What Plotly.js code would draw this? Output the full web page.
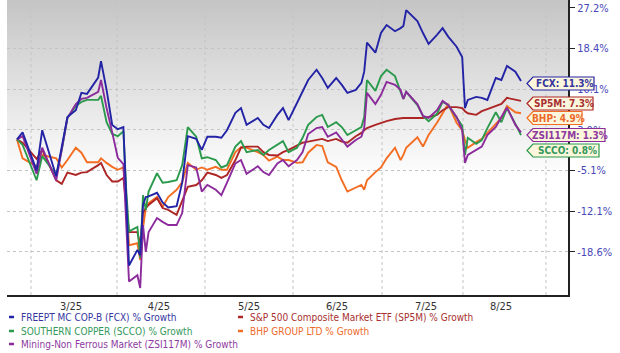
<!DOCTYPE html>
<html><head><meta charset="utf-8">
<script src="https://cdn.plot.ly/plotly-3.0.1.min.js"></script>
<style>
body{margin:0;background:#fff}
#wrap{position:relative;width:620px;height:353px}
#bg{position:absolute;left:7px;top:0;width:561px;height:295px;
  background:linear-gradient(to bottom,#c4c4c4 0px,#e2e2e2 90px,#ffffff 178px,#ffffff 295px)}
#chart{position:absolute;left:0;top:0;width:620px;height:353px}
</style>
</head><body><div id="wrap"><div id="bg"></div><div id="chart"></div></div>
<script>
// ---------- data (percent growth since start) ----------
const dates = [
'2025-02-24','2025-02-26','2025-03-03','2025-03-05','2025-03-10','2025-03-12','2025-03-14','2025-03-17','2025-03-19','2025-03-21',
'2025-03-25','2025-03-26','2025-03-28','2025-03-30','2025-04-01','2025-04-03','2025-04-04','2025-04-05','2025-04-08','2025-04-09',
'2025-04-10','2025-04-11','2025-04-12','2025-04-15','2025-04-17','2025-04-19','2025-04-22','2025-04-24','2025-04-26','2025-04-29',
'2025-05-01','2025-05-03','2025-05-06','2025-05-08','2025-05-10','2025-05-13','2025-05-15','2025-05-17','2025-05-21','2025-05-23',
'2025-05-25','2025-05-28','2025-05-30','2025-06-01','2025-06-04','2025-06-06','2025-06-08','2025-06-11','2025-06-13','2025-06-15',
'2025-06-18','2025-06-20','2025-06-22','2025-06-25','2025-06-27','2025-06-28','2025-06-29','2025-07-02','2025-07-04','2025-07-06',
'2025-07-09','2025-07-11','2025-07-12','2025-07-13','2025-07-17','2025-07-19','2025-07-21','2025-07-24','2025-07-26','2025-07-28',
'2025-07-31','2025-08-02','2025-08-03','2025-08-04','2025-08-07','2025-08-09','2025-08-11','2025-08-14','2025-08-16','2025-08-18',
'2025-08-21','2025-08-23'];

const fcx = [0,1.3,-5.5,1.7,-6.5,-1.5,4.2,5.5,8.9,8.7, 12.0,15.4,9.5,2.7,1.9,2.3,-10.5,-20.6,-18.3,-19.1,
 -11.3,-10.0,-9.9,-9.3,-10.9,-11.7,-11.5,-7.6,0.6,0.1, -1.9,0.5,0.5,0.3,1.7,5.0,5.9,2.7,4.0,2.7,
 2.1,4.6,5.9,3.6,6.9,9.1,11.5,13.6,11.9,9.9, 11.9,10.5,8.9,9.5,10.9,13.2,19.4,17.2,21.5,23.3,
 21.9,22.6,23.1,26.7,24.2,21.5,19.1,21.1,22.6,20.7, 18.5,16.3,5.9,7.5,8.1,7.9,7.5,11.9,11.5,14.4, 13.2,11.3];

const sp5m = [0,-0.6,-3.5,-1.9,-7.2,-7.8,-5.9,-6.3,-5.9,-5.8, -4.6,-4.2,-6.3,-7.4,-7.4,-6.8,-11.3,-15.6,-15.6,-17.6,
 -12.6,-11.8,-11.3,-10.2,-11.8,-12.1,-12.9,-10.5,-8.3,-8.0, -7.2,-5.9,-6.3,-6.8,-6.3,-3.7,-1.5,-1.3,-1.3,-2.3,
 -2.8,-2.9,-2.3,-1.9,-1.2,-0.6,-0.4,-0.1,0.1,-0.3, 0.1,-0.4,-0.6,0.6,1.2,1.7,2.1,2.7,3.1,3.4,
 3.8,4.0,4.0,4.0,4.0,4.0,4.2,4.6,5.5,6.1, 6.1,5.9,5.3,4.9,4.6,5.3,5.7,6.3,6.7,7.9, 7.5,7.3];

const scco = [0,-1.0,-7.2,-3.0,-6.3,-1.9,4.0,6.3,7.1,7.5, 7.5,8.3,3.2,1.0,0.6,1.5,-8.8,-15.5,-14.8,-19.5,
 -9.7,-12.1,-9.1,-6.0,-7.6,-7.5,-7.2,-4.6,2.3,0.5, -3.4,-3.2,-3.7,-5.0,-4.6,-1.3,-0.3,-2.3,-1.9,-2.8,
 -1.9,-1.0,-0.3,-2.3,-1.5,0.3,2.7,4.2,4.6,2.3, 3.2,2.3,0.8,1.7,2.3,4.2,11.5,9.3,12.3,13.6,
 12.3,9.1,7.7,9.1,6.5,4.4,3.4,4.8,7.1,6.5, 4.2,2.5,-2.8,0.3,-0.8,-0.1,2.1,5.1,3.2,5.9, 2.9,0.8];

const bhp = [0,-3.4,-4.8,-2.8,-3.4,-5.0,-3.7,-1.5,-2.4,-4.1, -4.1,-3.4,-4.2,-4.9,-5.4,-5.0,-10.5,-17.6,-17.3,-19.8,
 -15.0,-11.8,-11.0,-10.0,-11.6,-10.0,-8.8,-7.5,-4.2,-5.4, -5.0,-5.4,-4.9,-5.4,-5.4,-2.3,-1.4,-1.5,-2.3,-2.8,
 -3.8,-3.1,-3.7,-3.7,-4.2,-4.1,-2.4,-1.0,-1.2,-4.1, -4.9,-7.2,-9.1,-8.4,-8.0,-8.8,-7.2,-5.8,-5.0,-3.4,
 -1.5,-3.7,-2.8,-1.5,0.4,-1.3,0.8,3.1,5.0,6.7, 3.1,1.7,-0.1,-1.5,-0.5,0.1,1.2,2.9,4.0,6.3, 5.1,4.9];

const zsi = [0,0.6,-6.1,-1.5,-7.2,-1.9,4.0,6.7,7.7,7.9, 9.1,11.5,5.9,1.3,-3.3,-4.4,-14.5,-22.9,-22.0,-23.8,
 -14.5,-18.6,-15.6,-13.4,-14.0,-14.5,-14.5,-12.6,-4.6,-5.0, -9.1,-8.0,-8.8,-9.7,-7.6,-4.3,-3.7,-6.1,-4.8,-5.8,
 -6.3,-4.3,-3.7,-4.8,-3.7,-2.3,1.0,2.1,2.3,0.5, 1.3,-0.1,-1.3,-0.1,0.5,2.1,8.9,6.7,8.5,11.1,
 10.5,9.5,7.7,9.1,6.7,4.4,4.0,5.5,7.3,6.5, 4.2,1.7,-4.2,-2.8,-1.9,-1.3,0.8,2.3,4.2,6.0, 2.7,1.3];

const legendNames = ['FREEPT MC COP-B (FCX) % Growth','S&P 500 Composite Market ETF (SP5M) % Growth',
  'SOUTHERN COPPER (SCCO) % Growth','BHP GROUP LTD % Growth','Mining-Non Ferrous Market (ZSI117M) % Growth'];
const tickers = ['FCX','SP5M','SCCO','BHP','ZSI117M'];
const xTickText = ['3/25','4/25','5/25','6/25','7/25','8/25'];
const yTickText = ['27.2%','18.4%','10.1%','3.0%','-5.1%','-12.1%','-18.6%'];

// ---------- styling / layout ----------
const W = 620, H = 353, L = 7, R = 52, T = 0, B = 58;
const PW = W - L - R, PH = H - T - B;
const px = x => (x - L) / PW;          // pixel -> paper x
const py = y => 1 - (y - T) / PH;      // pixel -> paper y
const FONT = "'DejaVu Sans Condensed', 'DejaVu Sans', sans-serif";
const GRID = '#c4c4c4';

const series = [
  {vals: fcx,  color:'#2323a6', text:'#35359f', idx:0},
  {vals: sp5m, color:'#ad2525', text:'#a83030', idx:1},
  {vals: scco, color:'#2b9a4c', text:'#33985a', idx:2},
  {vals: bhp,  color:'#f36d22', text:'#ee6a2a', idx:3},
  {vals: zsi,  color:'#8c2b9c', text:'#8e3aa0', idx:4}
];
const drawOrder = [3,1,2,4,0];
const toRatio = g => 1 + g / 100;

const traces = drawOrder.map(i => {
  const s = series.find(o => o.idx === i);
  return {type:'scatter', mode:'lines', x: dates, y: s.vals.map(toRatio), name: legendNames[i],
          line:{color:s.color, width:1.9}, hoverinfo:'skip', showlegend:false};
});

// y ticks: evenly spaced on a log scale between top and bottom labels
const yTop = toRatio(parseFloat(yTickText[0])), yBot = toRatio(parseFloat(yTickText[yTickText.length-1]));
const yTickVals = yTickText.map((_, k) => Math.exp(Math.log(yTop) + (Math.log(yBot) - Math.log(yTop)) * k / (yTickText.length - 1)));

const shapes = [], annotations = [];

// background gradient: grey at the top fading to white (opaque bands, below the grid)
const hex2 = v => v.toString(16).padStart(2, '0');
const gradTop = 196, gradMid = 226, midPx = 90, endPx = 178, band = 3;
for (let y = 0; y < endPx; y += band) {
  const yc = y + band / 2;
  const v = yc <= midPx ? gradTop + (gradMid - gradTop) * yc / midPx
                        : gradMid + (255 - gradMid) * (yc - midPx) / (endPx - midPx);
  const c = Math.min(255, Math.round(v));
  shapes.push({type:'rect', xref:'paper', yref:'paper', x0:0, x1:1, y0:py(Math.min(endPx, y + band + 0.6)), y1:py(y),
    fillcolor:'#' + hex2(c) + hex2(c) + hex2(c), line:{width:0}, layer:'below'});
}

// vertical dotted grid lines at the month boundaries of the reference chart
const monthGrid = ['2025-03-01 00:00','2025-03-31 17:00','2025-05-02 03:00','2025-06-02 14:00','2025-07-04 09:00','2025-08-02 07:00','2025-08-31 22:00'];
monthGrid.forEach(d => shapes.push({type:'line', xref:'x', yref:'paper', x0:d, x1:d, y0:0, y1:1,
  line:{color:GRID, width:1, dash:'dot'}, layer:'below'}));

// end labels (callouts)
const callouts = [
  {i:0, cy:83.5, right:594},
  {i:1, cy:103.5, right:593},
  {i:3, cy:118, right:582},
  {i:4, cy:135, right:605},
  {i:2, cy:150.5, right:599}
];
const tip = 527, hh = 6.5, notch = 6;
callouts.forEach(c => {
  const s = series.find(o => o.idx === c.i);
  const last = s.vals[s.vals.length - 1];
  const path = `M ${px(tip)},${py(c.cy)} L ${px(tip+notch)},${py(c.cy-hh)} L ${px(c.right)},${py(c.cy-hh)} L ${px(c.right)},${py(c.cy+hh)} L ${px(tip+notch)},${py(c.cy+hh)} Z`;
  shapes.push({type:'path', xref:'paper', yref:'paper', path, fillcolor:'#fbf6dc', line:{color:s.color, width:1.2}, layer:'above'});
  annotations.push({xref:'paper', yref:'paper', x:px((tip+notch+c.right)/2 + 1), y:py(c.cy), xanchor:'center', yanchor:'middle',
    text:`<b>${tickers[c.i]}: ${last.toFixed(1)}%</b>`, showarrow:false, font:{family:FONT, size:10, color:s.text}});
});

// legend (bottom, two columns)
const legendSlots = [
  {i:0, x:9, y:317}, {i:1, x:238, y:317},
  {i:2, x:9, y:331}, {i:3, x:238, y:331},
  {i:4, x:9, y:344}
];
legendSlots.forEach(l => {
  const s = series.find(o => o.idx === l.i);
  shapes.push({type:'line', xref:'paper', yref:'paper', x0:px(l.x), x1:px(l.x+5), y0:py(l.y), y1:py(l.y), line:{color:s.color, width:2.5}});
  annotations.push({xref:'paper', yref:'paper', x:px(l.x+10), y:py(l.y), xanchor:'left', yanchor:'middle', showarrow:false,
    text:legendNames[l.i], font:{family:FONT, size:10, color:s.text}});
});

const layout = {
  width:W, height:H, margin:{l:L, r:R, t:T, b:B},
  paper_bgcolor:'rgba(0,0,0,0)', plot_bgcolor:'rgba(0,0,0,0)', showlegend:false,
  xaxis:{type:'date', range:['2025-02-20 10:17','2025-09-08 19:00'], showgrid:false, zeroline:false,
    tickmode:'array',
    tickvals:['2025-03-15 07:00','2025-04-15 17:00','2025-05-17 21:00','2025-06-18 07:00','2025-07-20 02:00','2025-08-15 21:00'],
    ticktext:xTickText, ticks:'', tickfont:{family:FONT, size:11, color:'#333333'},
    showline:true, linecolor:'#222222', linewidth:2},
  yaxis:{type:'log', side:'right', range:[Math.log10(Math.exp(-0.2847)), Math.log10(Math.exp(0.2552))],
    tickmode:'array', tickvals:yTickVals, ticktext:yTickText, tickfont:{family:FONT, size:11, color:'#4747b8'},
    ticks:'outside', ticklen:5, tickwidth:1, tickcolor:'#222', showline:true, linecolor:'#222222', linewidth:2,
    showgrid:true, gridcolor:GRID, griddash:'dot', gridwidth:1, zeroline:false},
  shapes, annotations
};

Plotly.newPlot('chart', traces, layout, {staticPlot:true, displayModeBar:false});
</script></body></html>
